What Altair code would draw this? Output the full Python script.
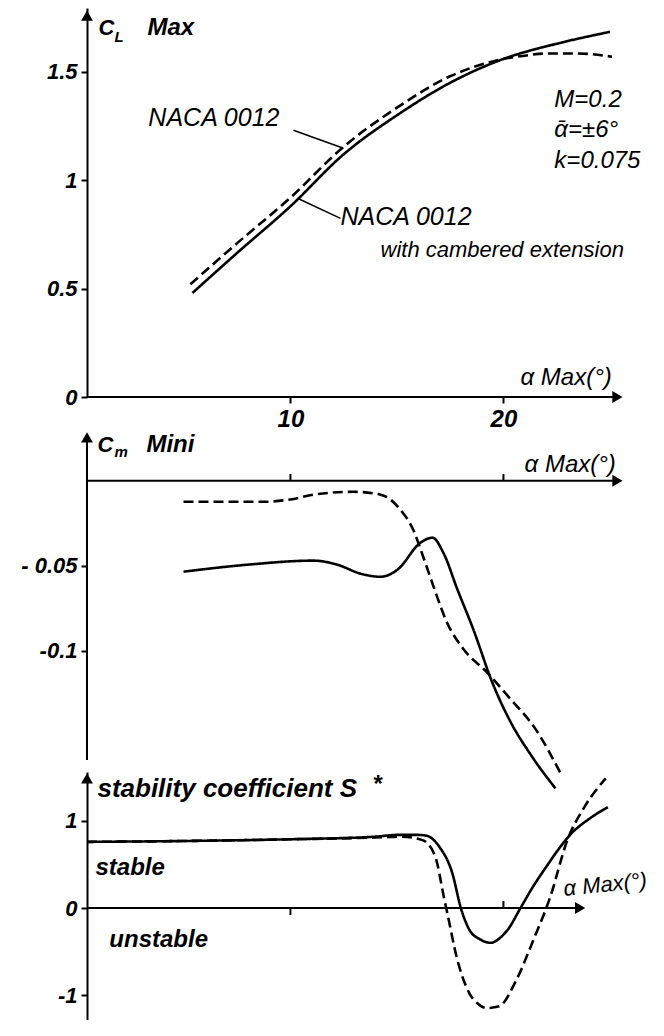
import altair as alt
import pandas as pd

# ---------------- data ----------------
# Panel 1 : C_L max versus alpha max
cl_solid_alpha = [5.4, 7.5, 10, 12.5, 15, 17.5, 20, 22.5, 25]
cl_solid = [0.48, 0.665, 0.88, 1.12, 1.30, 1.45, 1.56, 1.63, 1.685]
cl_dash_alpha = [5.3, 7.5, 10, 12.5, 15, 17.5, 20, 21, 22, 23.5, 25.1]
cl_dash = [0.52, 0.71, 0.92, 1.155, 1.335, 1.48, 1.56, 1.575, 1.585, 1.585, 1.57]

# Panel 2 : C_m mini versus alpha max
cm_solid_alpha = [4.98, 7.98, 11.08, 12.2, 13.3, 14.23, 15.02, 16.1, 16.67, 17.18,
                  17.84, 18.59, 19.48, 20.33, 21.27, 22.44]
cm_solid = [-0.0535, -0.0494, -0.047, -0.0494, -0.0547, -0.0565, -0.0524, -0.0365,
            -0.0335, -0.0424, -0.064, -0.0876, -0.1188, -0.1418, -0.161, -0.181]
cm_dash_alpha = [4.98, 8.73, 10.0, 11.08, 12.96, 14.23, 15.16, 15.77, 16.24, 16.71,
                 17.37, 18.12, 19.25, 20.23, 21.5, 22.72]
cm_dash = [-0.0124, -0.0124, -0.011, -0.0082, -0.0065, -0.0082, -0.017, -0.029,
           -0.045, -0.062, -0.084, -0.099, -0.113, -0.127, -0.146, -0.173]

# Panel 3 : stability coefficient S* versus alpha max
s_solid_alpha = [0.45, 5, 10, 14, 15.0, 16.0, 16.4, 17.0, 17.6, 18.0, 18.4, 18.9,
                 19.4, 19.9, 20.2, 20.8, 21.4, 22.0, 22.6, 23.2, 24.0, 24.9]
s_solid = [0.76, 0.77, 0.79, 0.82, 0.84, 0.84, 0.83, 0.70, 0.40, 0.0, -0.25, -0.36,
           -0.40, -0.33, -0.25, 0.0, 0.25, 0.47, 0.68, 0.86, 1.02, 1.16]
s_dash_alpha = [0.45, 5, 10, 14, 15.2, 16.2, 16.8, 17.2, 17.4, 17.8, 18.4, 18.8,
                19.2, 19.8, 20.6, 21.4, 22.2, 23.0, 23.8, 24.8]
s_dash = [0.76, 0.77, 0.79, 0.81, 0.82, 0.78, 0.59, 0.13, -0.10, -0.56, -0.98, -1.10,
          -1.15, -1.13, -0.83, -0.37, 0.13, 0.78, 1.16, 1.49]

# tick values / labels
x_ticks = [10, 20]
cl_ticks = [0, 0.5, 1, 1.5]
cm_ticks = [-0.05, -0.1]
s_ticks = [1, 0, -1]

series_names = ["NACA 0012 with cambered extension", "NACA 0012"]

# ---------------- style ----------------
FONT = "Liberation Sans"
X_DOMAIN = [0.45, 25.8]
W = 540


def yaxis(values, label_expr, domain=True):
    return alt.Axis(values=values, domain=domain, domainColor="black", domainWidth=2,
                    ticks=True, tickColor="black", tickWidth=2, tickSize=6,
                    labels=True, labelFont=FONT, labelFontSize=22,
                    labelFontStyle="italic", labelFontWeight="bold",
                    labelColor="black", labelPadding=4, labelOverlap=False,
                    grid=False, title=None, minExtent=79, maxExtent=79,
                    labelExpr=label_expr)


def panel(curves, rules, arrows, texts, ydom, height, yax, xax):
    xs = alt.Scale(domain=X_DOMAIN, nice=False, zero=False)
    ys = alt.Scale(domain=ydom, nice=False, zero=False)
    X = alt.X("a:Q", scale=xs, axis=xax)
    Y = alt.Y("v:Q", scale=ys, axis=yax)

    lines = alt.Chart(curves).mark_line(
        color="black", strokeWidth=2.6, interpolate="monotone", clip=False
    ).encode(
        x=X, y=Y,
        detail="series:N",
        strokeDash=alt.StrokeDash(
            "series:N",
            scale=alt.Scale(domain=series_names, range=[[1, 0], [10, 5]]),
            legend=None,
        ),
    )
    rule = alt.Chart(rules).mark_rule(color="black").encode(
        x=X, x2="a2:Q", y=Y, y2="v2:Q",
        strokeWidth=alt.StrokeWidth("w:Q", scale=None),
    )
    arr = alt.Chart(arrows).mark_point(
        filled=True, color="black", fill="black", opacity=1, strokeWidth=1
    ).encode(
        x=X, y=Y,
        shape=alt.Shape("dir:N", scale=alt.Scale(domain=["up", "right"],
                                                  range=["triangle-up", "triangle-right"]),
                        legend=None),
        size=alt.value(140),
    )
    layers = [rule, lines, arr]
    for weight in ["normal", "bold"]:
        sub = texts[texts["weight"] == weight]
        if len(sub):
            layers.append(
                alt.Chart(sub).mark_text(
                    font=FONT, fontStyle="italic", fontWeight=weight, color="black",
                    align="left", baseline="alphabetic"
                ).encode(
                    x=X, y=Y, text="text:N",
                    size=alt.Size("fs:Q", scale=None),
                    angle=alt.Angle("ang:Q", scale=None),
                )
            )
    return alt.layer(*layers).properties(width=W, height=height)


def curves_df(a1, v1, a2, v2):
    return pd.DataFrame(
        [{"a": a, "v": v, "series": series_names[0]} for a, v in zip(a1, v1)]
        + [{"a": a, "v": v, "series": series_names[1]} for a, v in zip(a2, v2)]
    )


def texts_df(rows):
    return pd.DataFrame(rows, columns=["text", "a", "v", "fs", "weight", "ang"])


# ---------------- panel 1 ----------------
p1_curves = curves_df(cl_solid_alpha, cl_solid, cl_dash_alpha, cl_dash)
p1_rules = pd.DataFrame([
    {"a": X_DOMAIN[0], "a2": 25.2, "v": 0, "v2": 0, "w": 2},        # x axis line
    {"a": 10.14, "a2": 12.49, "v": 1.231, "v2": 1.148, "w": 1.5},   # leader, upper label
    {"a": 12.35, "a2": 10.33, "v": 0.824, "v2": 0.917, "w": 1.5},   # leader, lower label
])
p1_arrows = pd.DataFrame([{"a": X_DOMAIN[0], "v": 1.76, "dir": "up"},
                          {"a": 25.35, "v": 0, "dir": "right"}])
p1_texts = texts_df([
    ("C", 0.99, 1.669, 22, "bold", 0),
    ("L", 1.74, 1.637, 15, "bold", 0),
    ("Max", 3.29, 1.669, 24, "bold", 0),
    ("NACA 0012", 3.33, 1.249, 25, "normal", 0),
    ("NACA 0012", 12.35, 0.792, 25, "normal", 0),
    ("with cambered extension", 14.23, 0.645, 22, "normal", 0),
    ("M=0.2", 22.39, 1.337, 24, "normal", 0),
    ("ᾱ=±6°", 22.39, 1.198, 24, "normal", 0),
    ("k=0.075", 22.39, 1.055, 24, "normal", 0),
    ("α Max(°)", 20.8, 0.054, 24, "normal", 0),
])
x_axis_1 = alt.Axis(values=x_ticks, domain=False, ticks=True, tickColor="black",
                    tickWidth=2, tickSize=6, labelFont=FONT, labelFontSize=24,
                    labelFontStyle="italic", labelFontWeight="bold", labelColor="black",
                    labelPadding=4, labelFlush=False, grid=False, title=None)
p1 = panel(p1_curves, p1_rules, p1_arrows, p1_texts, [0, 1.795], 389,
           yaxis(cl_ticks, "replace(format(datum.value, '.2~f'), '−', '-')"), x_axis_1)

# ---------------- panel 2 ----------------
p2_curves = curves_df(cm_solid_alpha, cm_solid, cm_dash_alpha, cm_dash)
p2_rules = pd.DataFrame(
    [{"a": X_DOMAIN[0], "a2": 25.2, "v": 0, "v2": 0, "w": 2},
     {"a": X_DOMAIN[0], "a2": X_DOMAIN[0], "v": -0.1643, "v2": 0.025, "w": 2}]
    + [{"a": t, "a2": t, "v": 0, "v2": 0.004, "w": 2} for t in x_ticks]
)
p2_arrows = pd.DataFrame([{"a": X_DOMAIN[0], "v": 0.0255, "dir": "up"},
                          {"a": 25.35, "v": 0, "dir": "right"}])
p2_texts = texts_df([
    ("C", 0.94, 0.0169, 22, "bold", 0),
    ("m", 1.74, 0.0139, 15, "bold", 0),
    ("Mini", 3.24, 0.0169, 24, "bold", 0),
    ("α Max(°)", 20.99, 0.0051, 24, "normal", 0),
])
p2 = panel(p2_curves, p2_rules, p2_arrows, p2_texts, [-0.1643, 0.0422], 351,
           yaxis(cm_ticks, "datum.value < -0.07 ? '-0.1' : '- 0.05'", domain=False),
           None)

# ---------------- panel 3 ----------------
p3_curves = curves_df(s_solid_alpha, s_solid, s_dash_alpha, s_dash)
p3_rules = pd.DataFrame([
    {"a": X_DOMAIN[0], "a2": 23.5, "v": 0, "v2": 0, "w": 2},
    {"a": 10, "a2": 10, "v": 0, "v2": -0.08, "w": 2},
    {"a": 20, "a2": 20, "v": 0, "v2": 0.08, "w": 2},
])
p3_arrows = pd.DataFrame([{"a": X_DOMAIN[0], "v": 1.49, "dir": "up"},
                          {"a": 23.6, "v": 0, "dir": "right"}])
p3_texts = texts_df([
    ("stability coefficient S", 0.94, 1.276, 26, "bold", 0),
    ("*", 13.85, 1.333, 24, "bold", 0),
    ("stable", 0.85, 0.379, 24, "bold", 0),
    ("unstable", 1.50, -0.448, 24, "bold", 0),
    ("α Max(°)", 22.86, 0.138, 22, "normal", -6),
])
p3 = panel(p3_curves, p3_rules, p3_arrows, p3_texts, [-1.287, 1.563], 248,
           yaxis(s_ticks, "replace(format(datum.value, '~g'), '−', '-')"), None)

chart = alt.vconcat(p1, p2, p3, spacing=12, bounds="flush").properties(
    padding={"left": 0, "top": 0, "right": 0, "bottom": 0},
    background="white",
).configure_view(stroke=None)

chart.save("out.html", embed_options={"renderer": "svg", "actions": False})
